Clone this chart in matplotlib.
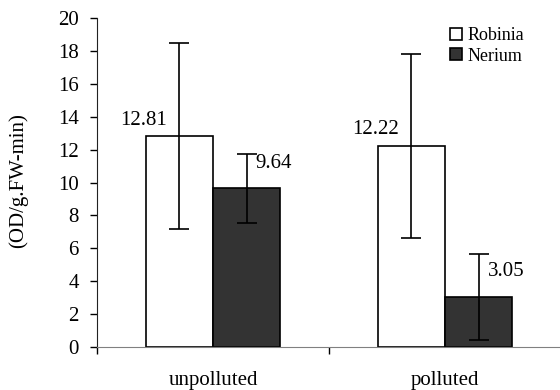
import matplotlib
matplotlib.use("Agg")
import matplotlib.pyplot as plt
from matplotlib.patches import Rectangle
import numpy as np

sites = ['unpolluted', 'polluted']
robinia = [12.81, 12.22]
robinia_err = [5.66, 5.6]
nerium = [9.64, 3.05]
nerium_err = [2.1, 2.6]
yticks = [0, 2, 4, 6, 8, 10, 12, 14, 16, 18, 20]

plt.rcParams['font.family'] = ['Liberation Serif', 'DejaVu Serif']
fs = 15

fig = plt.figure(figsize=(5.6, 3.9), dpi=100)
ax = fig.add_axes([97 / 560, 43 / 390, 464 / 560, 329 / 390])

x = np.arange(len(sites))
w = 0.29
err_kw = dict(ecolor='black', elinewidth=1.2, capsize=7, capthick=1.2)
ax.bar(x - w / 2, robinia, w, yerr=robinia_err, color='white', edgecolor='black',
       linewidth=1.2, error_kw=err_kw, label='Robinia', zorder=2)
ax.bar(x + w / 2, nerium, w, yerr=nerium_err, color='#333333', edgecolor='black',
       linewidth=1.2, error_kw=err_kw, label='Nerium', zorder=2)

# value labels
for xi, v in zip(x, robinia):
    ax.annotate(f'{v:.2f}', (xi - w / 2, v), xytext=(-12, 16), textcoords='offset pixels',
                ha='right', va='center', fontsize=fs)
for xi, v in zip(x, nerium):
    ax.annotate(f'{v:.2f}', (xi + w / 2, v), xytext=(9, 25), textcoords='offset pixels',
                ha='left', va='center', fontsize=fs)

ax.set_xlim(-0.5, 1.5)
ax.set_ylim(0, 20)
ax.set_yticks(yticks)
ax.tick_params(axis='y', labelsize=fs, length=5, width=1, pad=8, direction='out')

ax.set_xticks(x)
ax.set_xticklabels(sites, fontsize=fs)
ax.tick_params(axis='x', which='major', length=0, pad=17)
ax.set_xticks([-0.5, 0.5, 1.5], minor=True)
ax.tick_params(axis='x', which='minor', length=5, width=1, color='black', direction='out')

ax.spines['top'].set_visible(False)
ax.spines['right'].set_visible(False)
ax.spines['left'].set_color('#222222')
ax.spines['bottom'].set_color('#808080')

fig.text(18 / 560, 0.538, '(OD/g.FW-min)', rotation=90, ha='center', va='center', fontsize=fs)

handles = [Rectangle((0, 0), 1, 1, facecolor='white', edgecolor='black', linewidth=1.2),
           Rectangle((0, 0), 1, 1, facecolor='#333333', edgecolor='black', linewidth=1.2)]
fig.legend(handles, ['Robinia', 'Nerium'], loc='upper left',
           bbox_to_anchor=(450 / 560, (390 - 27) / 390), frameon=False, fontsize=13,
           handlelength=0.66, handleheight=0.66, handletextpad=0.3, labelspacing=0.2,
           borderpad=0, borderaxespad=0)

fig.savefig('out.png', dpi=100)
